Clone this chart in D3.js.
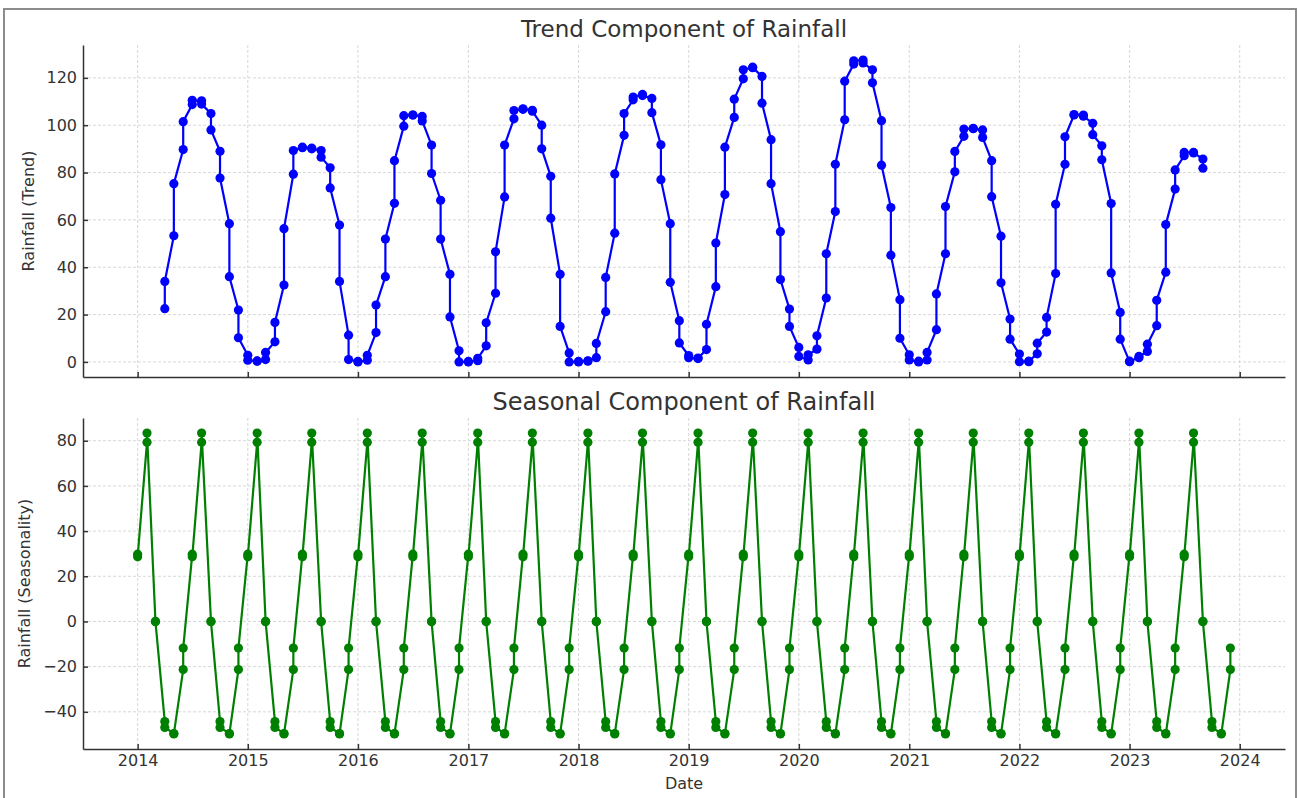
<!DOCTYPE html>
<html>
<head>
<meta charset="utf-8">
<script src="https://cdn.jsdelivr.net/npm/d3@7"></script>
<style>
  html, body { margin: 0; padding: 0; background: #fff; }
  svg { display: block; font-family: "DejaVu Sans", sans-serif; }
  .grid line { stroke: #d2d2d2; stroke-width: 0.9; stroke-dasharray: 3,2; }
  .axis text { fill: #333; font-size: 16px; }
  .axis line, .axis path { stroke: #333; stroke-width: 1.5; }
</style>
</head>
<body>
<div id="chart"></div>
<script>
// Trend component: two readings per month, from Apr 2014 to Sep 2023
const trendStart = new Date(2014, 3, 1);
const trendValues = [
  22.5, 34, 53.3, 75.3, 89.7, 101.5, 108.7, 110.5, 110.3, 108.9, 104.9, 98, 89, 77.7, 58.4, 36, 21.9, 10.2,
  2.8, 0.7, 0.4, 0.3, 1, 4, 8.5, 16.7, 32.5, 56.3, 79.3, 89.3, 90.5, 90.7, 90.3, 90, 89.3, 86.5, 82, 73.5, 57.8, 34, 11.3, 1,
  0.2, 0, 0.7, 2.8, 12.4, 24, 36, 51.9, 67, 85, 99.6, 104, 104.3, 104.3, 103.7, 101.8, 91.6, 79.6, 68.3, 51.9, 37, 19, 4.7, 0,
  0, 0.2, 0.5, 1.5, 6.8, 16.5, 29, 46.5, 69.7, 91.6, 102.7, 106.2, 106.7, 106.9, 106.3, 105.9, 100, 90, 78.4, 60.7, 37, 15, 3.8, 0,
  0, 0.2, 0.3, 0.5, 1.8, 7.8, 21.2, 35.7, 54.4, 79.4, 95.7, 104.9, 110.7, 111.9, 113, 112.5, 111.3, 105.3, 91.7, 77, 58.4, 33.6, 17.4, 8,
  2.7, 1.8, 1.4, 1.6, 5.2, 15.9, 31.8, 50.2, 70.7, 90.7, 103.3, 111, 119.6, 123.4, 124.5, 124.3, 120.6, 109.3, 93.9, 75.3, 55, 34.8, 22.3, 15,
  6.1, 2.3, 0.8, 3, 5.4, 11, 27, 45.7, 63.5, 83.5, 102.3, 118.6, 125.8, 127.2, 127.5, 126.3, 123.4, 117.9, 101.9, 83.1, 65.2, 45.1, 26.3, 10,
  3, 0.8, 0, 0.3, 0.8, 4, 13.6, 28.7, 45.7, 65.6, 80.3, 88.9, 95.3, 98.4, 98.7, 98.5, 98, 94.8, 85, 69.8, 53.1, 33.4, 18.1, 9.6,
  3.3, 0.1, 0.1, 0.3, 3.4, 7.9, 12.6, 18.8, 37.3, 66.6, 83.5, 95.1, 104.3, 104.5, 104.3, 103.8, 100.8, 96, 91.3, 85.4, 66.9, 37.6, 20.9, 9.6,
  0.1, 0.3, 1.8, 2.3, 4.4, 7.5, 15.3, 26, 37.9, 58, 73, 81.1, 87.1, 88.5, 88.5, 88.3, 85.7, 81.8
];

// Seasonal component: two readings per month, Jan 2014 to Dec 2023
const seasonalStart = new Date(2014, 0, 1);
const seasonalValues = [
  29.8, 28.6, 79.3, 83.4, 0.1, -0.1, -44.3, -46.9, -49.6, -49.8, -21.3, -11.8, 29.8, 28.6, 79.3, 83.4, 0.1, -0.1, -44.3, -46.9, -49.6, -49.8, -21.3, -11.8,
  29.8, 28.6, 79.3, 83.4, 0.1, -0.1, -44.3, -46.9, -49.6, -49.8, -21.3, -11.8, 29.8, 28.6, 79.3, 83.4, 0.1, -0.1, -44.3, -46.9, -49.6, -49.8, -21.3, -11.8,
  29.8, 28.6, 79.3, 83.4, 0.1, -0.1, -44.3, -46.9, -49.6, -49.8, -21.3, -11.8, 29.8, 28.6, 79.3, 83.4, 0.1, -0.1, -44.3, -46.9, -49.6, -49.8, -21.3, -11.8,
  29.8, 28.6, 79.3, 83.4, 0.1, -0.1, -44.3, -46.9, -49.6, -49.8, -21.3, -11.8, 29.8, 28.6, 79.3, 83.4, 0.1, -0.1, -44.3, -46.9, -49.6, -49.8, -21.3, -11.8,
  29.8, 28.6, 79.3, 83.4, 0.1, -0.1, -44.3, -46.9, -49.6, -49.8, -21.3, -11.8, 29.8, 28.6, 79.3, 83.4, 0.1, -0.1, -44.3, -46.9, -49.6, -49.8, -21.3, -11.8,
  29.8, 28.6, 79.3, 83.4, 0.1, -0.1, -44.3, -46.9, -49.6, -49.8, -21.3, -11.8, 29.8, 28.6, 79.3, 83.4, 0.1, -0.1, -44.3, -46.9, -49.6, -49.8, -21.3, -11.8,
  29.8, 28.6, 79.3, 83.4, 0.1, -0.1, -44.3, -46.9, -49.6, -49.8, -21.3, -11.8, 29.8, 28.6, 79.3, 83.4, 0.1, -0.1, -44.3, -46.9, -49.6, -49.8, -21.3, -11.8,
  29.8, 28.6, 79.3, 83.4, 0.1, -0.1, -44.3, -46.9, -49.6, -49.8, -21.3, -11.8, 29.8, 28.6, 79.3, 83.4, 0.1, -0.1, -44.3, -46.9, -49.6, -49.8, -21.3, -11.8,
  29.8, 28.6, 79.3, 83.4, 0.1, -0.1, -44.3, -46.9, -49.6, -49.8, -21.3, -11.8, 29.8, 28.6, 79.3, 83.4, 0.1, -0.1, -44.3, -46.9, -49.6, -49.8, -21.3, -11.8,
  29.8, 28.6, 79.3, 83.4, 0.1, -0.1, -44.3, -46.9, -49.6, -49.8, -21.3, -11.8, 29.8, 28.6, 79.3, 83.4, 0.1, -0.1, -44.3, -46.9, -49.6, -49.8, -21.3, -11.8
];

const yearTicks = [2014, 2015, 2016, 2017, 2018, 2019, 2020, 2021, 2022, 2023, 2024];
const trendTicks = [0, 20, 40, 60, 80, 100, 120];
const seasonalTicks = [-40, -20, 0, 20, 40, 60, 80];

const width = 1298;
const height = 798;
const left = 83;
const right = 1285;

// two readings share each month
const toPoints = (start, values) => values.map((v, i) => ({
  date: d3.timeMonth.offset(start, Math.floor(i / 2)),
  value: v
}));

const trendData = toPoints(trendStart, trendValues);
const seasonalData = toPoints(seasonalStart, seasonalValues);

const svg = d3.select("#chart")
  .append("svg")
  .attr("width", width)
  .attr("height", height);

// screenshot frame
svg.append("rect")
  .attr("x", 4)
  .attr("y", 9)
  .attr("width", 1292)
  .attr("height", 820)
  .attr("fill", "none")
  .attr("stroke", "#8c8c8c")
  .attr("stroke-width", 2);

// shared x scale with matplotlib-like 5% margins
const xExtent = d3.extent(seasonalData, d => d.date);
const xPad = (xExtent[1] - xExtent[0]) * 0.05;
const xScale = d3.scaleTime()
  .domain([new Date(+xExtent[0] - xPad), new Date(+xExtent[1] + xPad)])
  .range([left, right]);

const padded = values => {
  const [lo, hi] = d3.extent(values);
  const pad = (hi - lo) * 0.05;
  return [lo - pad, hi + pad];
};

const renderPanel = (opts) => {
  const { top, bottom, data, values, color, title, titleSize, ylabel, yTicks, showDates, ylabelX } = opts;

  const yScale = d3.scaleLinear()
    .domain(padded(values))
    .range([bottom, top]);

  const g = svg.append("g");
  const yearDates = yearTicks.map(y => new Date(y, 0, 1));

  // Grid
  g.append("g")
    .attr("class", "grid")
    .selectAll("line.v")
    .data(yearDates)
    .enter()
    .append("line")
    .attr("x1", d => xScale(d))
    .attr("x2", d => xScale(d))
    .attr("y1", top)
    .attr("y2", bottom);

  g.append("g")
    .attr("class", "grid")
    .selectAll("line.h")
    .data(yTicks)
    .enter()
    .append("line")
    .attr("x1", left)
    .attr("x2", right)
    .attr("y1", d => yScale(d))
    .attr("y2", d => yScale(d));

  // Line
  const line = d3.line()
    .x(d => xScale(d.date))
    .y(d => yScale(d.value));

  g.append("path")
    .datum(data)
    .attr("fill", "none")
    .attr("stroke", color)
    .attr("stroke-width", 2.2)
    .attr("stroke-linejoin", "round")
    .attr("d", line);

  // Markers
  g.selectAll(".dot")
    .data(data)
    .enter()
    .append("circle")
    .attr("class", "dot")
    .attr("cx", d => xScale(d.date))
    .attr("cy", d => yScale(d.value))
    .attr("r", 4.6)
    .attr("fill", color);

  // X-axis
  const xAxis = d3.axisBottom(xScale)
    .tickValues(yearDates)
    .tickSizeInner(-5)
    .tickSizeOuter(0)
    .tickPadding(6)
    .tickFormat(d => showDates ? d3.timeFormat("%Y")(d) : "");

  g.append("g")
    .attr("class", "axis")
    .attr("transform", `translate(0, ${bottom})`)
    .call(xAxis);

  // Y-axis
  g.append("g")
    .attr("class", "axis")
    .attr("transform", `translate(${left}, 0)`)
    .call(d3.axisLeft(yScale)
      .tickValues(yTicks)
      .tickSizeInner(-5)
      .tickSizeOuter(0)
      .tickPadding(6));

  g.selectAll(".axis text").style("font-family", "DejaVu Sans");

  // Title
  g.append("text")
    .attr("x", (left + right) / 2)
    .attr("y", top - 8)
    .attr("text-anchor", "middle")
    .style("font-size", titleSize)
    .style("fill", "#333")
    .text(title);

  // Y label
  g.append("text")
    .attr("transform", `translate(${ylabelX}, ${(top + bottom) / 2}) rotate(-90)`)
    .attr("text-anchor", "middle")
    .style("font-size", "16px")
    .style("fill", "#333")
    .text(ylabel);
};

renderPanel({
  top: 45,
  bottom: 377,
  data: trendData,
  values: trendValues,
  color: "#0000ff",
  title: "Trend Component of Rainfall",
  titleSize: "23px",
  ylabel: "Rainfall (Trend)",
  yTicks: trendTicks,
  showDates: false,
  ylabelX: 34
});

renderPanel({
  top: 418,
  bottom: 749,
  data: seasonalData,
  values: seasonalValues,
  color: "#008000",
  title: "Seasonal Component of Rainfall",
  titleSize: "24px",
  ylabel: "Rainfall (Seasonality)",
  yTicks: seasonalTicks,
  showDates: true,
  ylabelX: 30
});

svg.append("text")
  .attr("x", (left + right) / 2)
  .attr("y", 789)
  .attr("text-anchor", "middle")
  .style("font-size", "16px")
  .style("fill", "#333")
  .text("Date");
</script>
</body>
</html>
